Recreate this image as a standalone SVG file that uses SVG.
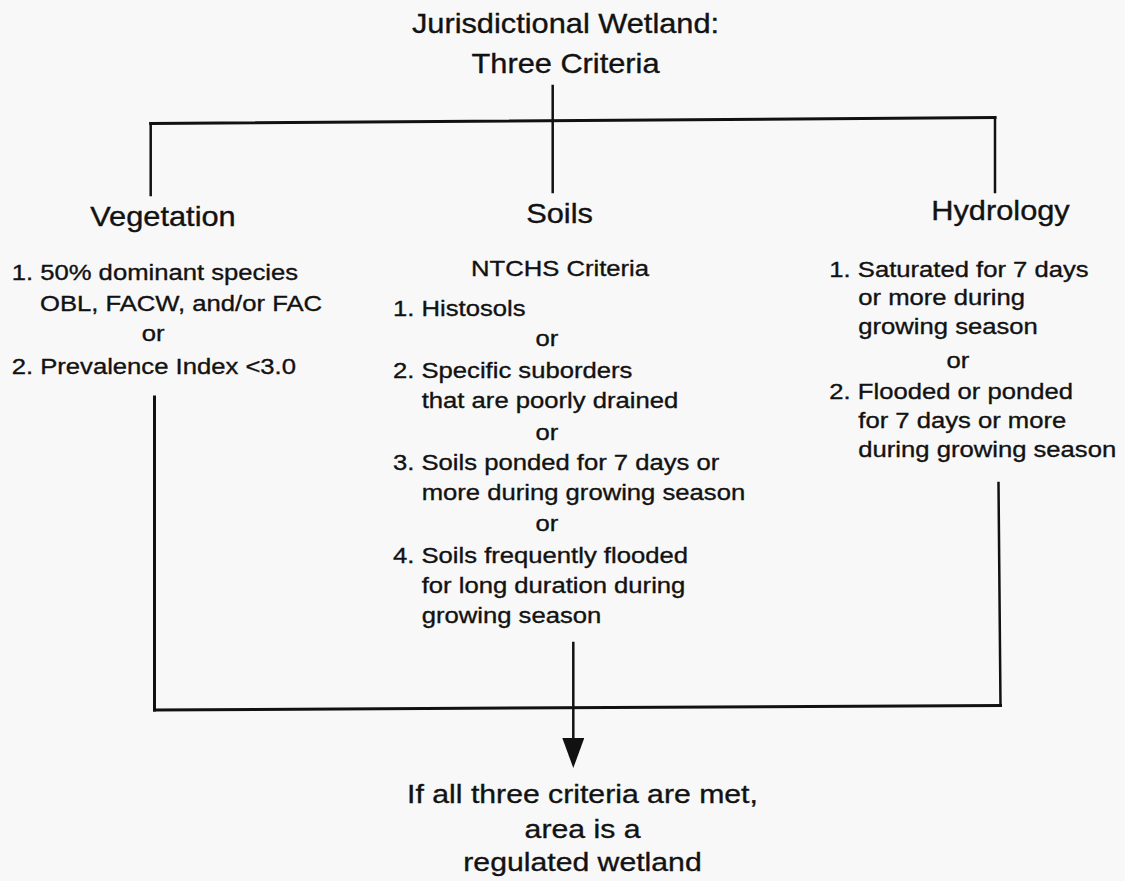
<svg xmlns="http://www.w3.org/2000/svg" width="1125" height="881" viewBox="0 0 1125 881">
<style>
.t{font-family:"Liberation Sans",Arial,Helvetica,sans-serif;fill:#121212;stroke:#121212;stroke-width:0.35}
.title{font-size:27px}
.head{font-size:27px}
.body{font-size:22.5px}
.res{font-size:26.5px}
.mid{text-anchor:middle}
.ln{stroke:#111;fill:none;stroke-linecap:square}
.thick{stroke-width:3}
.med{stroke-width:2.5}
</style>
<defs>
<marker id="arrow" viewBox="0 0 30 22" markerWidth="30" markerHeight="22" refX="0" refY="11" orient="auto" markerUnits="userSpaceOnUse">
<path d="M0,0 L30,11 L0,22 z" fill="#111"/>
</marker>
</defs>
<rect x="0" y="0" width="1125" height="881" fill="#f8f8f8"/>

<g id="connectors">
<line class="ln med" x1="552.7" y1="86" x2="552.7" y2="192"/>
<line class="ln thick" x1="150.7" y1="123.5" x2="995" y2="117.5"/>
<line class="ln med" x1="150.7" y1="123.5" x2="150.7" y2="195"/>
<line class="ln med" x1="995" y1="117.5" x2="995" y2="192"/>
<line class="ln thick" x1="154.5" y1="397" x2="154.5" y2="710"/>
<line class="ln med" x1="998.5" y1="483" x2="1000.5" y2="705.5"/>
<line class="ln thick" x1="154.5" y1="710" x2="1000.5" y2="705.5"/>
<line class="ln med" x1="573.3" y1="643" x2="573.3" y2="738" stroke-linecap="butt" marker-end="url(#arrow)"/>
</g>

<g id="title" class="t title" transform="translate(565.5,0) scale(1.14,1)">
<text class="mid" x="0" y="33">Jurisdictional Wetland:</text>
<text class="mid" x="0" y="73">Three Criteria</text>
</g>

<g id="vegetation" class="t head" transform="translate(163,0) scale(1.14,1)">
<text class="mid" x="0" y="226.5">Vegetation</text>
</g>
<g id="vegetation-criteria" class="t body" transform="translate(11.7,0) scale(1.14,1)">
<text x="0" y="280">1. 50% dominant species</text>
<text x="24.8" y="311.5">OBL, FACW, and/or FAC</text>
<text class="mid" x="124" y="341.5">or</text>
<text x="0" y="374">2. Prevalence Index &lt;3.0</text>
</g>

<g id="soils" class="t head" transform="translate(559.5,0) scale(1.14,1)">
<text class="mid" x="0" y="223">Soils</text>
</g>
<g id="soils-criteria" class="t body" transform="translate(393,0) scale(1.14,1)">
<text class="mid" x="146.5" y="276.5">NTCHS Criteria</text>
<text x="0" y="316.5">1. Histosols</text>
<text class="mid" x="135" y="346.5">or</text>
<text x="0" y="378">2. Specific suborders</text>
<text x="25.2" y="408">that are poorly drained</text>
<text class="mid" x="135" y="440">or</text>
<text x="0" y="470">3. Soils ponded for 7 days or</text>
<text x="25.2" y="500">more during growing season</text>
<text class="mid" x="135" y="531.5">or</text>
<text x="0" y="563">4. Soils frequently flooded</text>
<text x="25.2" y="593">for long duration during</text>
<text x="25.2" y="623">growing season</text>
</g>

<g id="hydrology" class="t head" transform="translate(1000.5,0) scale(1.14,1)">
<text class="mid" x="0" y="220">Hydrology</text>
</g>
<g id="hydrology-criteria" class="t body" transform="translate(829.3,0) scale(1.14,1)">
<text x="0" y="277.3">1. Saturated for 7 days</text>
<text x="25.4" y="305">or more during</text>
<text x="25.4" y="334.3">growing season</text>
<text class="mid" x="112.9" y="368">or</text>
<text x="0" y="399.3">2. Flooded or ponded</text>
<text x="25.4" y="427.7">for 7 days or more</text>
<text x="25.4" y="457">during growing season</text>
</g>

<g id="result" class="t res" transform="translate(582.5,0) scale(1.14,1)">
<text class="mid" x="0" y="802.7">If all three criteria are met,</text>
<text class="mid" x="0" y="838">area is a</text>
<text class="mid" x="0" y="871">regulated wetland</text>
</g>
</svg>
